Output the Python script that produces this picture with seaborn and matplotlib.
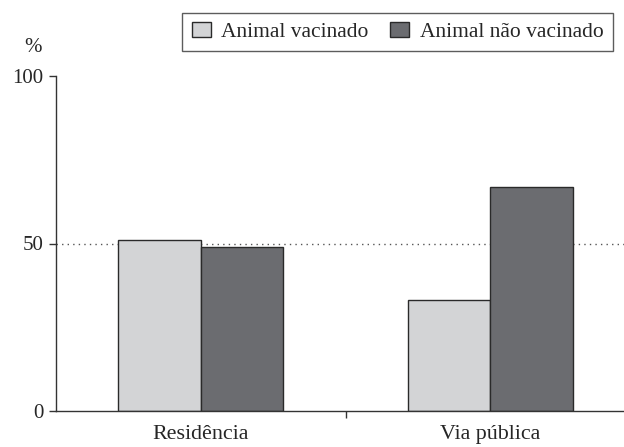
import matplotlib
matplotlib.use("Agg")
import matplotlib.pyplot as plt
import seaborn as sns
import pandas as pd

categories = ["Residência", "Via pública"]
series_names = ["Animal vacinado", "Animal não vacinado"]
vacinado = [51, 33]
nao_vacinado = [49, 67]
y_ticks = [0, 50, 100]

rows = []
for c, v in zip(categories, vacinado):
    rows.append({"local": c, "grupo": series_names[0], "pct": v})
for c, v in zip(categories, nao_vacinado):
    rows.append({"local": c, "grupo": series_names[1], "pct": v})
df = pd.DataFrame(rows)

sns.set_theme(style="white")
plt.rcParams['font.family'] = ['Liberation Serif', 'DejaVu Serif']

fig = plt.figure(figsize=(6.24, 4.47), dpi=100)
ax = fig.add_axes([56/624, 1 - 411/447, 1 - 56/624, (411 - 76)/447])

sns.barplot(data=df, x="local", y="pct", hue="grupo", order=categories,
            hue_order=series_names, palette=["#d3d4d6", "#6b6c70"],
            width=0.57, edgecolor="#2a2a2a", linewidth=1.0, ax=ax,
            saturation=1, errorbar=None, legend=True)

ax.axhline(50, color="#555555", linestyle=(0, (1, 3)), linewidth=1.0, zorder=0)

ax.set_xlim(-0.5, -0.5 + 568/289.5)
ax.set_ylim(0, 100)
ax.set_yticks(y_ticks)
ax.set_yticklabels([str(t) for t in y_ticks], fontsize=15)
ax.set_xticks([0, 1])
ax.set_xticklabels(categories, fontsize=15.8)
ax.set_xticks([0.5], minor=True)
ax.tick_params(axis="x", which="major", length=0, pad=10)
ax.tick_params(axis="x", which="minor", length=5, width=1, color="#333333", direction="out", bottom=True)
ax.tick_params(axis="y", which="major", length=5, width=1, color="#333333", direction="out", left=True, pad=4)
ax.set_xlabel("")
ax.set_ylabel("")
for s in ["top", "right"]:
    ax.spines[s].set_visible(False)
for s in ["left", "bottom"]:
    ax.spines[s].set_color("#333333")
    ax.spines[s].set_linewidth(1.0)

fig.text(33/624, 1 - 48/447, "%", fontsize=15, ha="center", va="center")

handles, labels = ax.get_legend_handles_labels()
ax.get_legend().remove()
leg = fig.legend(handles, labels, loc="upper right", bbox_to_anchor=(613/624, 1 - 12.7/447),
                 ncol=2, fontsize=15.5, frameon=True, fancybox=False,
                 edgecolor="#333333", handlelength=0.88, handleheight=0.7,
                 handletextpad=0.5, columnspacing=1.0, borderpad=0.43,
                 borderaxespad=0)
leg.get_frame().set_linewidth(1.0)

fig.savefig("out.png", dpi=100)
